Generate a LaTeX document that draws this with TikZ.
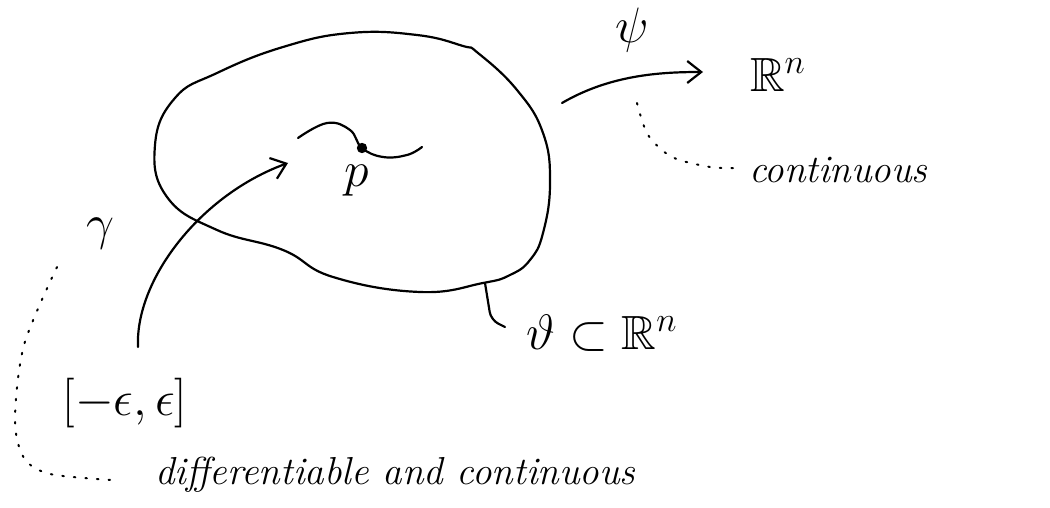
\documentclass[tikz,border=0pt]{standalone}
\usepackage{amsmath,amssymb}
\usepackage{fontspec}
\usepackage{tikz}
\usetikzlibrary{arrows.meta}

\begin{document}
\begin{tikzpicture}[x=0.5pt,y=-0.5pt,
  pen/.style={line width=1.1pt,line cap=round,line join=round},
  arr/.style={pen,-{Straight Barb[length=7pt,width=11pt]}},
  hint/.style={line width=1pt,dash pattern=on 0.8pt off 5pt,line cap=round},
  lbl/.style={font=\fontsize{24}{28}\selectfont},
  word/.style={font=\fontsize{19.5}{22}\selectfont\itshape}]
\useasboundingbox (0,0) rectangle (1050,508);
% the open set
\draw[pen] plot[smooth cycle,tension=0.75] coordinates {
  (478,53) (517,90) (543,133) (550,183) (543,233) (530,260) (510,275)
  (483,283) (420,292) (333,277) (283,250) (217,230) (167,197) (155,145)
  (175,98) (217,73) (283,47) (350,33) (417,35) (463,46)};
% curve through p
\coordinate (pt) at (362,148);
\draw[pen] plot[smooth,tension=0.7] coordinates {
  (298,138) (327,123) (350,130) (pt) (383,157) (407,155) (422,147)};
\fill (pt) circle[radius=2.6pt];
\node[lbl] (p) at (357,181) {$p$};
% gamma
\coordinate (g0) at (138,347);
\coordinate (g1) at (288,163);
\draw[arr] (g0) .. controls (135,280) and (200,195) .. (g1);
\node[lbl] (gam) at (100,234) {$\gamma$};
\node[lbl] (int) at (125,403) {$[-\epsilon,\epsilon]$};
\node[word,anchor=base west] (diff) at (148,484) {differentiable and continuous};
\draw[hint] plot[smooth] coordinates {
  (57,267) (24,345) (15,420) (24,458) (50,474) (112,480)};
% psi
\coordinate (s0) at (562,103);
\coordinate (s1) at (703,72);
\draw[arr] (s0) .. controls (610,75) and (660,72) .. (s1);
\node[lbl] (psi) at (632,30) {$\psi$};
\node[lbl] (rn) at (778,75) {$\mathbb{R}^n$};
\node[word,anchor=base west] (cont) at (742,183) {continuous};
\draw[hint] plot[smooth] coordinates {
  (637,103) (648,135) (672,157) (710,167) (736,168)};
% the domain
\coordinate (b0) at (485,283);
\draw[pen,rounded corners=4pt] (b0) -- (491,320) -- (505,327);
\node[lbl] (sub) at (602,333) {$\vartheta\subset\mathbb{R}^n$};
\end{tikzpicture}
\end{document}
